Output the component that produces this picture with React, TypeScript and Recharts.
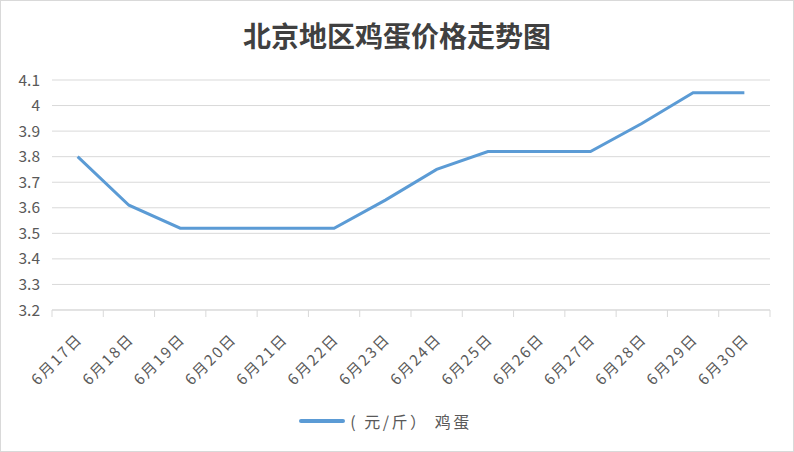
import { CartesianGrid, Legend, Line, LineChart, XAxis, YAxis } from "recharts";

const DATES = [
  "6月17日", "6月18日", "6月19日", "6月20日", "6月21日", "6月22日", "6月23日",
  "6月24日", "6月25日", "6月26日", "6月27日", "6月28日", "6月29日", "6月30日",
];
const PRICES = [3.8, 3.61, 3.52, 3.52, 3.52, 3.52, 3.63, 3.75, 3.82, 3.82, 3.82, 3.93, 4.05, 4.05];
const Y_TICKS = [3.2, 3.3, 3.4, 3.5, 3.6, 3.7, 3.8, 3.9, 4, 4.1];
const SERIES_NAME = "( 元/斤） 鸡蛋";

const FONT = "'Noto Sans CJK SC', 'Microsoft YaHei', sans-serif";
const GRID = "#d9d9d9";
const BLUE = "#5b9bd5";

const data = DATES.map((d, i) => ({ date: d, price: PRICES[i] }));

// category label rotated like Excel, plus tick marks on the band edges
function DateTick(props: any) {
  const { x, y, payload, index, width, visibleTicksCount } = props;
  const band = width / visibleTicksCount;
  const left = x - band / 2;
  const last = index === visibleTicksCount - 1;
  const tx = x + 6;
  const ty = y + 22;
  return (
    <g>
      <line x1={left} x2={left} y1={y - 8} y2={y - 1} stroke={GRID} />
      {last && <line x1={left + band} x2={left + band} y1={y - 8} y2={y - 1} stroke={GRID} />}
      <text
        x={tx}
        y={ty}
        textAnchor="end"
        fontSize={15}
        letterSpacing={2}
        fill="#595959"
        fontFamily={FONT}
        transform={`rotate(-45 ${tx} ${ty})`}
      >
        {payload.value}
      </text>
    </g>
  );
}

function LegendRow({ payload }: any) {
  return (
    <div style={{ display: "flex", justifyContent: "center", alignItems: "center" }}>
      {(payload || []).map((p: any) => (
        <div key={p.value} style={{ display: "flex", alignItems: "center" }}>
          <svg width={46} height={6} style={{ marginRight: 5 }}>
            <line x1={2} x2={44} y1={3} y2={3} stroke={p.color} strokeWidth={4} strokeLinecap="round" />
          </svg>
          <span style={{ color: "#595959", fontSize: 16, letterSpacing: 2.5, whiteSpace: "pre" }}>
            {p.value}
          </span>
        </div>
      ))}
    </div>
  );
}

export default function App() {
  return (
    <div
      style={{
        position: "absolute",
        left: 0,
        top: 0,
        width: 794,
        height: 452,
        boxSizing: "border-box",
        border: "1px solid #d9d9d9",
        background: "#fff",
        fontFamily: FONT,
      }}
    >
      <div
        style={{
          position: "absolute",
          left: 0,
          right: 0,
          top: 14,
          textAlign: "center",
          fontSize: 28,
          fontWeight: 700,
          color: "#404040",
        }}
      >
        北京地区鸡蛋价格走势图
      </div>
      <LineChart
        width={792}
        height={450}
        data={data}
        margin={{ top: 79, right: 23, left: 0, bottom: 18 }}
      >
        <CartesianGrid stroke={GRID} vertical={false} />
        <XAxis
          dataKey="date"
          scale="band"
          stroke={GRID}
          tickLine={false}
          tick={<DateTick />}
          interval={0}
          height={99}
        />
        <YAxis
          domain={[3.2, 4.1]}
          ticks={Y_TICKS}
          axisLine={false}
          tickLine={false}
          tickMargin={6}
          width={51}
          tick={{ fill: "#595959", fontSize: 15.5, fontFamily: FONT }}
        />
        <Legend verticalAlign="bottom" content={<LegendRow />} />
        <Line
          type="linear"
          dataKey="price"
          name={SERIES_NAME}
          stroke={BLUE}
          strokeWidth={3}
          dot={false}
          isAnimationActive={false}
        />
      </LineChart>
    </div>
  );
}
